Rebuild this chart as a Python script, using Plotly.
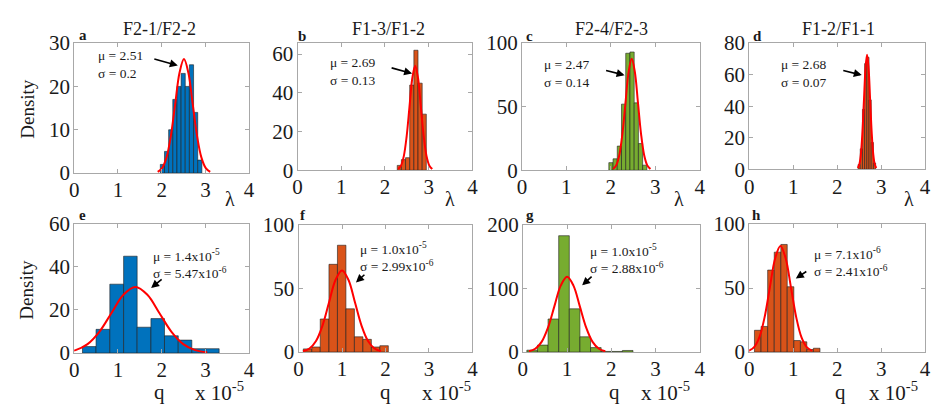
import plotly.graph_objects as go

W, H = 940, 414

# ---------------- data ----------------
titles = ["F2-1/F2-2", "F1-3/F1-2", "F2-4/F2-3", "F1-2/F1-1"]
letters = ["a", "b", "c", "d", "e", "f", "g", "h"]
x_ticks = [0, 1, 2, 3, 4]

# histogram bin edges and heights (x in lambda units, or q in units of 1e-5)
a_edges = [1.97, 2.065, 2.16, 2.255, 2.35, 2.445, 2.54, 2.635, 2.73, 2.825, 2.92]
a_counts = [2, 5, 10, 17, 20, 23, 20, 25, 14, 3]
b_edges = [2.28, 2.375, 2.47, 2.565, 2.66, 2.755, 2.85, 2.945]
b_counts = [2.5, 5.5, 6.5, 44, 62, 45, 29]
c_edges = [1.955, 2.05, 2.145, 2.24, 2.335, 2.43, 2.525, 2.62, 2.715, 2.81]
c_counts = [6, 9, 19, 52, 92, 93, 53, 21, 4]
d_edges = [2.475, 2.525, 2.575, 2.625, 2.675, 2.725, 2.775, 2.825, 2.875]
d_counts = [3, 13, 38, 67, 71, 44, 17, 4]
e_edges = [0.19, 0.50, 0.815, 1.13, 1.44, 1.755, 2.065, 2.38, 2.69, 3.005, 3.315]
e_counts = [3, 11, 32, 45, 12, 16, 8, 6, 2, 2]
f_edges = [0.11, 0.305, 0.50, 0.70, 0.895, 1.09, 1.285, 1.48, 1.675, 1.87, 2.065]
f_counts = [2.5, 4, 26, 69, 84, 34, 12, 10, 4, 5]
g_edges = [0.09, 0.33, 0.57, 0.81, 1.05, 1.29, 1.53, 1.77, 2.01, 2.25, 2.49]
g_counts = [3, 11, 52, 183, 68, 24, 7, 1, 1, 2.5]
h_edges = [0.12, 0.27, 0.42, 0.57, 0.72, 0.865, 1.015, 1.165, 1.31, 1.46, 1.61]
h_counts = [17, 20, 64, 78, 84, 51, 9, 8, 2, 3]

# fitted normal curves
a_fit_x = [1.91, 2.01, 2.11, 2.21, 2.31, 2.41, 2.51, 2.61, 2.71, 2.81, 2.91, 3.01, 3.11]
a_fit_y = [0.29, 1.15, 3.56, 8.54, 15.95, 23.21, 26.3, 23.21, 15.95, 8.54, 3.56, 1.15, 0.29]
b_fit_x = [2.30, 2.365, 2.43, 2.495, 2.56, 2.625, 2.69, 2.755, 2.82, 2.885, 2.95, 3.015, 3.08]
b_fit_y = [0.60, 2.37, 7.31, 17.53, 32.75, 47.66, 54, 47.66, 32.75, 17.53, 7.31, 2.37, 0.60]
c_fit_x = [2.05, 2.12, 2.19, 2.26, 2.33, 2.40, 2.47, 2.54, 2.61, 2.68, 2.75, 2.82, 2.89]
c_fit_y = [0.97, 3.85, 11.85, 28.44, 53.13, 77.31, 87.6, 77.31, 53.13, 28.44, 11.85, 3.85, 0.97]
d_fit_x = [2.47, 2.505, 2.54, 2.575, 2.61, 2.645, 2.68, 2.715, 2.75, 2.785, 2.82, 2.855, 2.89]
d_fit_y = [0.81, 3.19, 9.82, 23.57, 44.03, 64.07, 72.6, 64.07, 44.03, 23.57, 9.82, 3.19, 0.81]
e_fit_x = [-0.241, 0.0325, 0.306, 0.5795, 0.853, 1.1265, 1.4, 1.6735, 1.947, 2.2205, 2.494, 2.7675, 3.041]
e_fit_y = [0.34, 1.35, 4.15, 9.97, 18.62, 27.09, 30.7, 27.09, 18.62, 9.97, 4.15, 1.35, 0.34]
f_fit_x = [0.103, 0.2525, 0.402, 0.5515, 0.701, 0.8505, 1.0, 1.1495, 1.299, 1.4485, 1.598, 1.7475, 1.897]
f_fit_y = [0.71, 2.82, 8.69, 20.85, 38.94, 56.66, 64.2, 56.66, 38.94, 20.85, 8.69, 2.82, 0.71]
g_fit_x = [0.136, 0.28, 0.424, 0.568, 0.712, 0.856, 1.0, 1.144, 1.288, 1.432, 1.576, 1.72, 1.864]
g_fit_y = [1.31, 5.20, 16.02, 38.44, 71.81, 104.49, 118.4, 104.49, 71.81, 38.44, 16.02, 5.20, 1.31]
h_fit_x = [-0.013, 0.1075, 0.228, 0.3485, 0.469, 0.5895, 0.71, 0.8305, 0.951, 1.0715, 1.192, 1.3125, 1.433]
h_fit_y = [0.92, 3.63, 11.20, 26.89, 50.22, 73.07, 82.8, 73.07, 50.22, 26.89, 11.20, 3.63, 0.92]

mu_labels = ["μ = 2.51", "μ = 2.69", "μ = 2.47", "μ = 2.68",
             "μ = 1.4x10<sup>-5</sup>", "μ = 1.0x10<sup>-5</sup>",
             "μ = 1.0x10<sup>-5</sup>", "μ = 7.1x10<sup>-6</sup>"]
sigma_labels = ["σ = 0.2", "σ = 0.13", "σ = 0.14", "σ = 0.07",
                "σ = 5.47x10<sup>-6</sup>", "σ = 2.99x10<sup>-6</sup>",
                "σ = 2.88x10<sup>-6</sup>", "σ = 2.41x10<sup>-6</sup>"]
y_ranges = [[0, 30], [0, 65.7], [0, 100], [0, 80], [0, 60], [0, 100], [0, 200], [0, 100]]
y_dticks = [10, 20, 50, 20, 20, 50, 100, 50]

# ---------------- style / layout ----------------
BLUE, ORANGE, GREEN = "#0072BD", "#D95319", "#77AC30"
colors = [BLUE, ORANGE, GREEN, ORANGE, BLUE, ORANGE, GREEN, ORANGE]
FONT = "Liberation Serif"
TXT = "#1a1a1a"
AX = "#a8a8a8"

# plot-area boxes in pixels: (left, right, top, bottom)
boxes = [(70, 247, 33, 171), (296, 473, 33, 168), (523, 703, 33, 168), (753, 931, 33, 167),
         (70, 247, 225, 362), (297, 473, 226, 361), (524, 703, 226, 361), (753, 931, 225, 361)]

edges_all = [a_edges, b_edges, c_edges, d_edges, e_edges, f_edges, g_edges, h_edges]
counts_all = [a_counts, b_counts, c_counts, d_counts, e_counts, f_counts, g_counts, h_counts]
fx_all = [a_fit_x, b_fit_x, c_fit_x, d_fit_x, e_fit_x, f_fit_x, g_fit_x, h_fit_x]
fy_all = [a_fit_y, b_fit_y, c_fit_y, d_fit_y, e_fit_y, f_fit_y, g_fit_y, h_fit_y]


def px(x):
    return x / W


def py(y):
    return 1 - y / H


def note(text, x, y, size, xanchor="center", yanchor="middle", angle=0, align="center"):
    return dict(text=text, x=px(x), y=py(y), xref="paper", yref="paper",
                xanchor=xanchor, yanchor=yanchor, showarrow=False, textangle=angle,
                align=align, font=dict(family=FONT, size=size, color=TXT))


fig = go.Figure()
layout = dict(width=W, height=H, autosize=False, margin=dict(l=0, r=0, t=0, b=0, pad=0),
              paper_bgcolor="white", plot_bgcolor="white", showlegend=False,
              barmode="overlay")
annotations = []

for i in range(8):
    n = i + 1
    xa = "x" if n == 1 else f"x{n}"
    ya = "y" if n == 1 else f"y{n}"
    edges = edges_all[i]
    centers = [(edges[k] + edges[k + 1]) / 2 for k in range(len(edges) - 1)]
    widths = [edges[k + 1] - edges[k] for k in range(len(edges) - 1)]
    fig.add_trace(go.Bar(x=centers, y=counts_all[i], width=widths, xaxis=xa, yaxis=ya,
                         marker=dict(color=colors[i], line=dict(color="#202020", width=0.6))))
    fig.add_trace(go.Scatter(x=fx_all[i], y=fy_all[i], mode="lines", xaxis=xa, yaxis=ya,
                             line=dict(color="#FF0000", width=2, shape="spline"),
                             cliponaxis=True))
    l, r, t, b = boxes[i]
    common = dict(showline=True, linecolor=AX, linewidth=1, mirror="ticks", ticks="inside",
                  ticklen=4, tickcolor=AX, showgrid=False, zeroline=False, fixedrange=True,
                  tickfont=dict(family=FONT, size=21, color=TXT))
    layout["xaxis" if n == 1 else f"xaxis{n}"] = dict(
        common, domain=[px(l), px(r)], anchor=ya, range=[0, 4], tickvals=x_ticks,
        ticklabelstandoff=-2)
    layout["yaxis" if n == 1 else f"yaxis{n}"] = dict(
        common, domain=[py(b), py(t)], anchor=xa, range=y_ranges[i], dtick=y_dticks[i],
        ticklabelstandoff=-1)

# titles, letters
title_cx = [156, 388, 614, 843]
for i, t in enumerate(titles):
    annotations.append(note(t, title_cx[i], 18, 18))
letter_pos = [(79, 24), (301, 25), (531, 25), (761, 25), (78, 216), (302, 216), (531, 216), (760, 216)]
for i, (lx, ly) in enumerate(letter_pos):
    annotations.append(note(f"<b>{letters[i]}</b>", lx, ly, 15))

# mu / sigma text block (left x, vertical centre)
txt_pos = [(92, 56), (327, 63), (543, 65), (783, 65),
           (148, 267), (357, 260), (590, 262), (817, 265)]
for i, (tx, cy) in enumerate(txt_pos):
    annotations.append(note(mu_labels[i] + "<br>" + sigma_labels[i], tx, cy, 13.5,
                            xanchor="left", align="left"))

# arrows: head in data coords, tail offset in pixels
arrows = [(2.37, 24.8, -25, -7), (2.62, 50, -22, -6), (2.31, 74.8, -20, -5), (2.56, 59.7, -20, -5),
          (1.76, 30.2, 12, -10), (1.32, 54.8, 10, -9), (1.34, 105, 11, -10), (1.06, 57.4, 12, -8)]
for i, (hx, hy, ax, ay) in enumerate(arrows):
    n = i + 1
    annotations.append(dict(text="", x=hx, y=hy, xref="x" if n == 1 else f"x{n}",
                            yref="y" if n == 1 else f"y{n}", showarrow=True, ax=ax, ay=ay,
                            arrowhead=2, arrowsize=1, arrowwidth=1.6, arrowcolor="#000000"))

# axis labels
for cy in (103, 295):
    annotations.append(note("Density", 22, cy, 19, angle=-90))
for lx in (228, 450, 682, 915):
    annotations.append(note("λ", lx, 198, 20))
q_pos = [(156, 190), (385, 420), (617, 642), (845, 872)]
for qx, sx in q_pos:
    annotations.append(note("q", qx, 403, 21))
    annotations.append(note("x 10<sup>-5</sup>", sx, 403, 21, xanchor="left"))

layout["annotations"] = annotations
fig.update_layout(**layout)
fig.write_html(
    "out.html",
    config={"displayModeBar": False, "responsive": False},
    post_script=("document.documentElement.style.margin='0';"
                 "document.body.style.margin='0';"
                 "document.body.style.overflow='hidden';"
                 "document.documentElement.style.overflow='hidden';"),
)
